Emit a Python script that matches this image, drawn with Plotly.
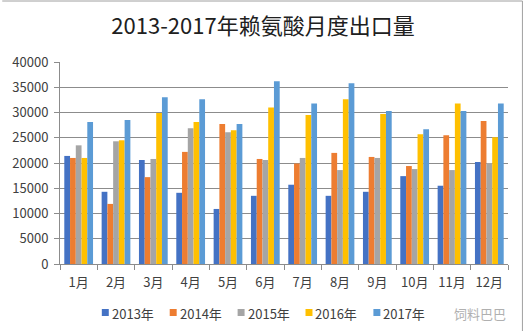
import plotly.graph_objects as go

months = ["1月", "2月", "3月", "4月", "5月", "6月", "7月", "8月", "9月", "10月", "11月", "12月"]
years = ["2013年", "2014年", "2015年", "2016年", "2017年"]
v2013 = [21400, 14300, 20600, 14100, 10900, 13500, 15700, 13500, 14300, 17400, 15500, 20200]
v2014 = [21000, 11900, 17200, 22200, 27700, 20800, 19900, 22000, 21200, 19400, 25500, 28300]
v2015 = [23500, 24300, 20800, 26900, 26100, 20600, 21000, 18600, 21000, 18800, 18600, 20000]
v2016 = [21000, 24500, 29900, 28100, 26500, 31000, 29500, 32600, 29700, 25700, 31800, 25100]
v2017 = [28100, 28500, 33000, 32600, 27700, 36200, 31800, 35800, 30300, 26700, 30300, 31800]
series = [v2013, v2014, v2015, v2016, v2017]
colors = ["#4472C4", "#ED7D31", "#A5A5A5", "#FFC000", "#5B9BD5"]
yticks = [0, 5000, 10000, 15000, 20000, 25000, 30000, 35000, 40000]

FONT = "Noto Sans CJK SC"
W, H = 526, 334
ML, MR, MT, MB = 58, 18, 62, 70
PW, PH = W - ML - MR, H - MT - MB


def px(x):
    return (x - ML) / PW


def py(y):
    return (H - MB - y) / PH


fig = go.Figure()
for name, vals, c in zip(years, series, colors):
    fig.add_trace(go.Bar(x=months, y=vals, name=name, showlegend=False,
                         marker=dict(color=c, line=dict(width=0))))

fig.update_layout(
    width=W, height=H,
    margin=dict(l=ML, r=MR, t=MT, b=MB),
    paper_bgcolor="white", plot_bgcolor="white",
    barmode="group", bargap=0.23, bargroupgap=0,
    showlegend=False,
    font=dict(family=FONT, size=13, color="#404040"),
    title=dict(text="2013-2017年赖氨酸月度出口量", x=0.5, xanchor="center", y=0.922, yanchor="middle",
               font=dict(family=FONT, size=22, color="#202020")),
    xaxis=dict(type="category", showline=True, linecolor="#8c8c8c", linewidth=1,
               ticks="outside", tickson="boundaries", ticklen=5, tickcolor="#8c8c8c",
               showgrid=False, ticklabelstandoff=6, tickfont=dict(size=13, color="#404040")),
    yaxis=dict(range=[0, 40000], tickvals=yticks, tickformat="d", showline=True,
               linecolor="#8c8c8c", linewidth=1,
               ticks="outside", ticklen=5, tickcolor="#8c8c8c",
               showgrid=True, gridcolor="#8c8c8c", gridwidth=1, zeroline=False,
               ticklabelstandoff=3, tickfont=dict(size=13, color="#404040")),
)

# custom legend (small square swatches like the reference)
for i, (name, c) in enumerate(zip(years, colors)):
    x0 = 100 + 68.2 * i
    fig.add_shape(type="rect", xref="paper", yref="paper",
                  x0=px(x0), x1=px(x0 + 7), y0=py(316), y1=py(309),
                  fillcolor=c, line=dict(width=0))
    fig.add_annotation(text=name, xref="paper", yref="paper", x=px(x0 + 8), y=py(313),
                       xanchor="left", yanchor="middle", showarrow=False,
                       font=dict(family=FONT, size=13, color="#404040"))

# chart border (top and right)
fig.add_shape(type="line", xref="paper", yref="paper", x0=px(0), x1=px(522.5), y0=py(1), y1=py(1),
              line=dict(color="#a0a0a0", width=1))
fig.add_shape(type="line", xref="paper", yref="paper", x0=px(522.5), x1=px(522.5), y0=py(1), y1=py(331),
              line=dict(color="#a0a0a0", width=1))
# watermark
fig.add_annotation(text="饲料巴巴", xref="paper", yref="paper", x=px(480), y=py(313), xanchor="center",
                   yanchor="middle", showarrow=False, font=dict(family=FONT, size=13, color="#b0b0b0"))
fig.write_html("out.html")
